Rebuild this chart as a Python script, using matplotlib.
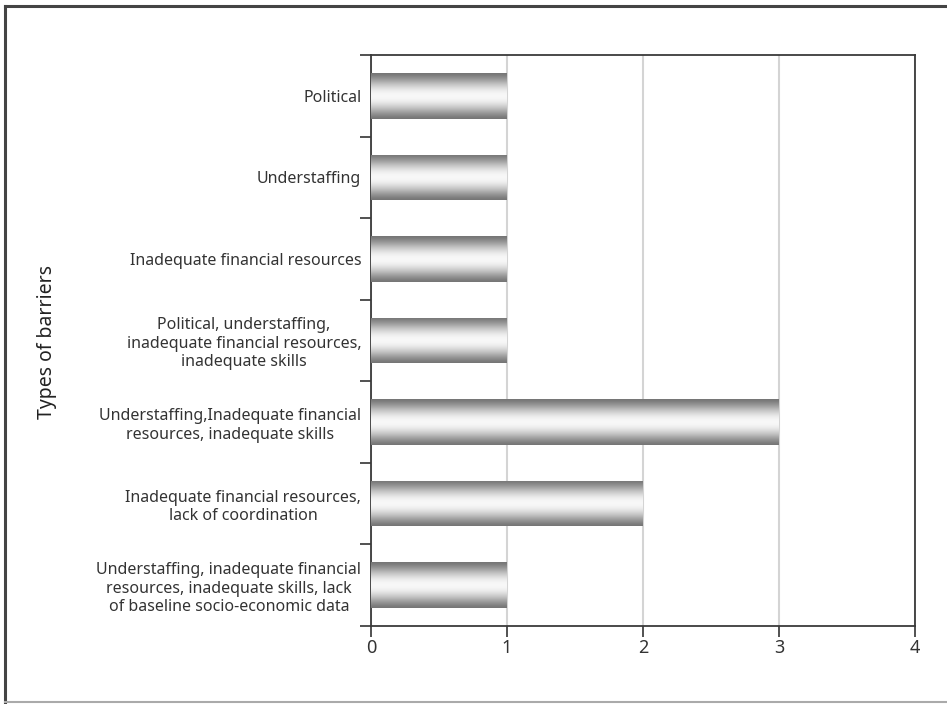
import numpy as np
import matplotlib
matplotlib.use("Agg")
import matplotlib.pyplot as plt
from matplotlib.lines import Line2D

plt.rcParams['font.family'] = ['Noto Sans', 'DejaVu Sans']

barreras = [
    "Political",
    "Understaffing",
    "Inadequate financial resources",
    "Political, understaffing,\ninadequate financial resources,\ninadequate skills",
    "Understaffing,Inadequate financial\nresources, inadequate skills",
    "Inadequate financial resources,\nlack of coordination",
    "Understaffing, inadequate financial\nresources, inadequate skills, lack\nof baseline socio-economic data",
]
cantidad = [1, 1, 1, 1, 3, 2, 1]
ticks_x = [0, 1, 2, 3, 4]

fig = plt.figure(figsize=(9.47, 7.04), dpi=100)
ax = fig.add_axes([0.3918, 0.1108, 0.5744, 0.8111])

pos = np.arange(len(barreras))
barras = ax.barh(pos, cantidad, height=0.56, color="none", edgecolor="none", zorder=3)

# degradado vertical: oscuro arriba y abajo, blanco en el centro
t = np.linspace(0, 1, 256)
g = 0.46 + 0.51 * np.sin(np.pi * t) ** 1.4
grad = g[:, None]
for b in barras:
    x0, y0 = b.get_x(), b.get_y()
    w, h = b.get_width(), b.get_height()
    im = ax.imshow(grad, cmap="gray", vmin=0, vmax=1, aspect="auto",
                   extent=[x0, x0 + w, y0 + h, y0], zorder=3,
                   interpolation="bilinear")
    im.set_clip_path(b)

ax.set_xlim(0, 4)
ax.set_ylim(len(barreras) - 0.5, -0.5)
ax.set_xticks(ticks_x)
ax.set_yticks(pos)
ax.set_yticklabels(barreras, multialignment="center", linespacing=1.22)
ax.set_yticks(np.arange(-0.5, len(barreras) + 0.5, 1), minor=True)
ax.tick_params(axis="y", which="major", length=0, pad=7, labelsize=11.5, colors="#333333")
ax.tick_params(axis="y", which="minor", length=8, width=1.2, color="#333333", direction="out")
ax.tick_params(axis="x", length=8, width=1.2, color="#333333", labelsize=13,
               labelcolor="#333333", pad=1.5)

ax.grid(axis="x", color="#d4d4d4", linewidth=1.5, zorder=0)
ax.set_axisbelow(True)
for s in ax.spines.values():
    s.set_color("#3a3a3a")
    s.set_linewidth(1.3)

fig.text(0.05, 0.514, "Types of barriers", rotation=90, fontsize=14,
         color="#222222", ha="center", va="center")

# marco de la figura
fig.add_artist(Line2D([0.005, 0.005], [0.0, 0.992], color="#444444", lw=2.2))
fig.add_artist(Line2D([0.005, 1.0], [0.992, 0.992], color="#444444", lw=2.2))
fig.add_artist(Line2D([0.005, 1.0], [0.003, 0.003], color="#aaaaaa", lw=1.5))

fig.savefig("out.png", dpi=100)
